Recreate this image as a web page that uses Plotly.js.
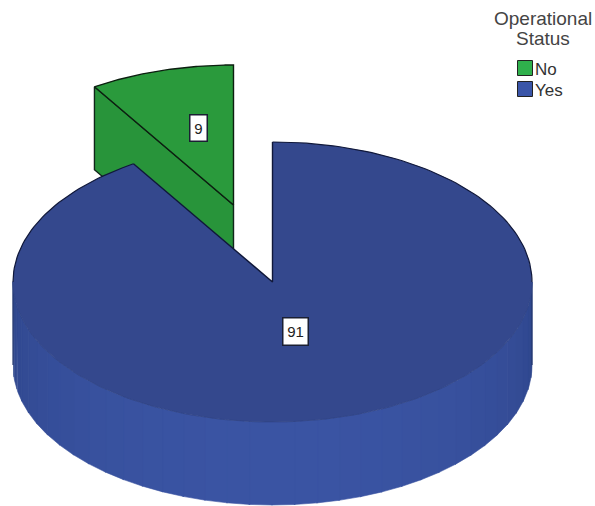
<!DOCTYPE html>
<html>
<head>
<meta charset="utf-8">
<script src="https://cdn.plot.ly/plotly-3.0.1.min.js"></script>
<style>html,body{margin:0;padding:0;background:#fff}#chart{width:595px;height:506px}</style>
</head>
<body>
<div id="chart"></div>
<script>
// Operational status shares
const statuses = ['No', 'Yes'];
const shares = [9, 91];
const legendTitleLines = ['Operational', 'Status'];

// Palette per status
const topColors = ['#2a9a3c', '#34488d'];
const cutColors = ['#28943a', '#2f4488'];
const keyColors = ['#2fb04c', '#3a55a8'];

// Projection of the tilted disc onto the pixel-sized axes
const cx = 272.5, cy = 282, rx = 259.5, ry = 140, depth = 83;
const explode = {dx: -39, dy: -77};
const total = shares.reduce((a, b) => a + b, 0);
const sweepNo = shares[0] / total * 2 * Math.PI;

// Angle is measured clockwise from twelve o'clock
function rim(a, off, drop) {
  const o = off || {dx: 0, dy: 0};
  return [cx + o.dx + rx * Math.sin(a), cy + o.dy + (drop || 0) - ry * Math.cos(a)];
}
function arc(a0, a1, off, drop, steps) {
  const pts = [];
  const n = steps || 90;
  for (let i = 0; i <= n; i++) pts.push(rim(a0 + (a1 - a0) * i / n, off, drop));
  return pts;
}
function poly(pts, fill, lineColor, lineWidth, closed) {
  const xs = pts.map(p => p[0]), ys = pts.map(p => p[1]);
  if (closed !== false) { xs.push(xs[0]); ys.push(ys[0]); }
  return {
    type: 'scatter', mode: 'lines', x: xs, y: ys,
    fill: fill ? 'toself' : 'none', fillcolor: fill || undefined,
    line: {color: lineColor || fill, width: lineWidth === undefined ? 0 : lineWidth},
    hoverinfo: 'skip', showlegend: false
  };
}
function mix(a, b, t) {
  const p = s => [1, 3, 5].map(i => parseInt(s.substr(i, 2), 16));
  const A = p(a), B = p(b);
  return 'rgb(' + A.map((v, i) => Math.round(v + (B[i] - v) * t)).join(',') + ')';
}

const traces = [];
const TAU = 2 * Math.PI;
const apexNo = [cx + explode.dx, cy + explode.dy];
const cornerNo = rim(-sweepNo, explode);

// Exploded "No" wedge: cut face first, then its top
traces.push(poly([cornerNo, apexNo, [apexNo[0], apexNo[1] + depth], [cornerNo[0], cornerNo[1] + depth]],
  cutColors[0], '#10261a', 1.4));
traces.push(poly([apexNo, ...arc(-sweepNo, 0, explode)], topColors[0], '#0c1f10', 1.4));

// Wall of the "Yes" slice, shaded in vertical bands around the front
const bands = 36;
for (let i = 0; i < bands; i++) {
  const a0 = Math.PI / 2 + Math.PI * i / bands;
  const a1 = Math.PI / 2 + Math.PI * (i + 1) / bands + 0.004;
  const t = Math.pow(Math.sin(Math.PI * (i + 0.5) / bands), 0.7);
  const col = mix('#2d4489', '#3a54a3', t);
  traces.push(poly([...arc(a0, a1, null, 0, 6), ...arc(a1, a0, null, depth, 6)], col, col, 0.6));
}
// Short dark edges on both flanks of the wall
traces.push(poly([rim(Math.PI / 2), rim(Math.PI / 2, null, depth)], null, '#24376f', 1.2, false));
traces.push(poly([rim(-Math.PI / 2), rim(-Math.PI / 2, null, depth)], null, '#24376f', 1.2, false));

// Top of the "Yes" slice and its outline
const apexYes = [cx, cy];
traces.push(poly([apexYes, ...arc(0, TAU - sweepNo, null, 0, 240)], topColors[1]));
traces.push(poly(arc(Math.PI / 2, 3 * Math.PI / 2, null, 0, 120), null, '#2e4284', 0.8, false));
traces.push(poly(arc(3 * Math.PI / 2, TAU - sweepNo, null, 0, 40), null, '#10183a', 1.2, false));
traces.push(poly(arc(0, Math.PI / 2, null, 0, 60), null, '#10183a', 1.2, false));
traces.push(poly([rim(0), apexYes, rim(-sweepNo)], null, '#10183a', 1.4, false));

// Key entries: coloured square, with the status name as an annotation below
const keyX = 525, keyY = [68, 89];
statuses.forEach((s, i) => traces.push({
  type: 'scatter', mode: 'markers', x: [keyX], y: [keyY[i]], name: s,
  marker: {symbol: 'square', size: 15, color: keyColors[i], line: {color: '#222', width: 1}},
  cliponaxis: false, hoverinfo: 'skip', showlegend: false
}));

// Value tags centred on each slice
function tag(text, x, y, w, h) {
  return {
    xref: 'x', yref: 'y', x, y, text: String(text), showarrow: false,
    width: w, height: h, bgcolor: '#fff', bordercolor: '#1a1f33', borderwidth: 1.5, borderpad: 0,
    font: {family: 'Liberation Sans, Arial, sans-serif', size: 15, color: '#222'}
  };
}
function titleLine(text, y) {
  return {
    xref: 'x', yref: 'y', x: 543, y, text, showarrow: false, align: 'center',
    font: {family: 'Liberation Sans, Arial, sans-serif', size: 19, color: '#444'}
  };
}
function keyLabel(text, y) {
  return {
    xref: 'x', yref: 'y', x: 534, y, text, showarrow: false, xanchor: 'left', borderpad: 0,
    font: {family: 'Liberation Sans, Arial, sans-serif', size: 17, color: '#333'}
  };
}

const layout = {
  width: 595, height: 506,
  margin: {l: 0, r: 0, t: 0, b: 0},
  paper_bgcolor: '#fff', plot_bgcolor: '#fff',
  xaxis: {range: [0, 595], visible: false, fixedrange: true},
  yaxis: {range: [506, 0], visible: false, fixedrange: true},
  hovermode: false,
  showlegend: false,
  annotations: [
    tag(shares[0], 198, 127.5, 16, 25),
    tag(shares[1], 295, 331, 24, 26),
    titleLine(legendTitleLines[0], 18),
    titleLine(legendTitleLines[1], 38),
    keyLabel(statuses[0], keyY[0] + 1),
    keyLabel(statuses[1], keyY[1] + 1)
  ]
};

Plotly.newPlot('chart', traces, layout, {displayModeBar: false, staticPlot: true});
</script>
</body>
</html>
